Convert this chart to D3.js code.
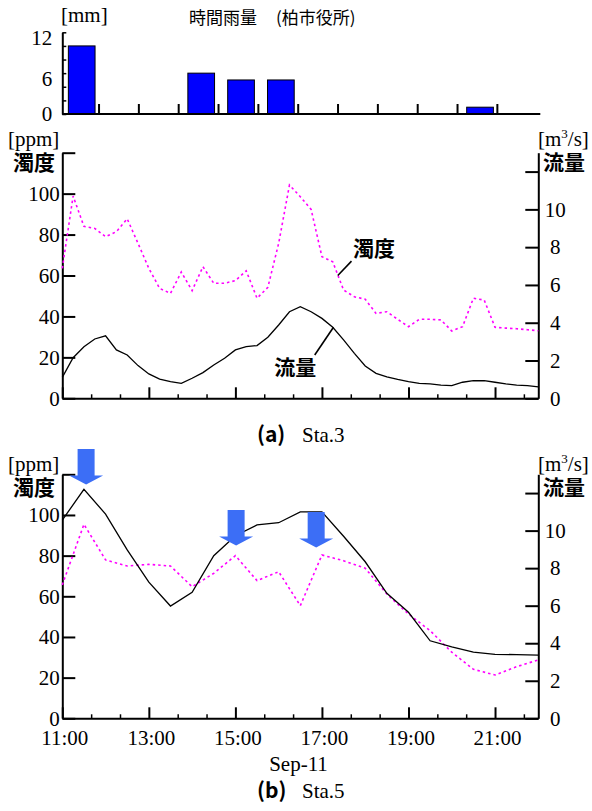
<!DOCTYPE html>
<html><head><meta charset="utf-8">
<script src="https://cdn.jsdelivr.net/npm/d3@7"></script>
<style>
body{margin:0;background:#fff}
svg{display:block}
text.num{font-family:'Liberation Serif','Times New Roman',Times,serif !important;font-size:21px;fill:#000}
text.cjkb{font-family:'Noto Sans CJK JP',sans-serif;font-weight:700;font-size:21px;fill:#000}
text.cjk{font-family:'Noto Sans CJK JP',sans-serif;font-weight:400;font-size:17px;fill:#000}
text.cap{font-family:'Noto Sans CJK JP',sans-serif;font-weight:700;font-size:21px;fill:#000}
</style></head><body>
<svg id="c" width="592" height="811"></svg>
<script>
// ---------- data ----------
const rainHours = ["11","12","13","14","15","16","17","18","19","20","21","22"];
const rainMm = [10,0,0,6,5,5,0,0,0,0,1,0];
const rainTicks = [0,2,4,6,8,10,12];
const rainTickLabels = [0,6,12];

const sta3Times = ["11:00","11:15","11:30","11:45","12:00","12:15","12:30","12:45","13:00","13:15","13:30","13:45","14:00","14:15","14:30","14:45","15:00","15:15","15:30","15:45","16:00","16:15","16:30","16:45","17:00","17:15","17:30","17:45","18:00","18:15","18:30","18:45","19:00","19:15","19:30","19:45","20:00","20:15","20:30","20:45","21:00","21:15","21:30","21:45","22:00"];
const sta3Turbidity = [63.5,98.8,84,83,79,81.4,87.7,75.7,63.5,53.7,51.3,61.7,52.6,64.3,56.2,56.2,57.5,62.3,48.9,54.2,75.7,104.2,98.5,92.3,69.2,66.7,52.9,49.6,48.4,41.5,42.3,38.6,35,38.6,38.6,38.3,32.9,35,48.9,48,34.7,34.3,34,33.5,33];
const sta3Flow = [1.11,2.15,2.73,3.14,3.31,2.56,2.29,1.73,1.29,1.02,0.88,0.79,1.06,1.36,1.76,2.12,2.56,2.73,2.79,3.23,3.88,4.58,4.85,4.58,4.23,3.76,3.09,2.38,1.71,1.32,1.14,1.0,0.88,0.79,0.76,0.70,0.67,0.85,0.93,0.93,0.85,0.76,0.70,0.67,0.61];

const sta5Times = ["11:00","11:30","12:00","12:30","13:00","13:30","14:00","14:30","15:00","15:30","16:00","16:30","17:00","17:30","18:00","18:30","19:00","19:30","20:00","20:30","21:00","21:30","22:00"];
const sta5Turbidity = [65.6,95.4,77.9,74.9,75.7,74.9,64.7,71.3,80,67.7,72.1,55.4,80.3,77.5,73.8,61.1,51.3,43.1,32.5,24.1,21.3,25.4,28.7];
const sta5Flow = [10.56,12.2,10.88,8.97,7.25,5.98,6.71,8.66,9.73,10.3,10.42,11.0,11.0,9.7,8.34,6.66,5.65,4.13,3.81,3.52,3.41,3.39,3.37];

const turbTicks = [0,20,40,60,80,100,120];
const flowTicks = [0,2,4,6,8,10,12];
const timeMajor = ["11:00","13:00","15:00","17:00","19:00","21:00"];
const timeMinor = ["11:40","12:20","13:40","14:20","15:40","16:20","17:40","18:20","19:40","20:20","21:40"];

// annotations
const arrowTimes = ["11:33","15:01","16:52"];
const arrowTipPpm = [115, 85, 84];
const turbLeader = ["17:22", 60, "17:41", 67];   // [time, ppm] -> [time, ppm]
const flowLeader = ["16:50", 2.29, "17:16", 3.76]; // [time, m3/s] -> [time, m3/s]

// ---------- layout ----------
const SERIF = "'Liberation Serif','Times New Roman',Times,serif";
const L = 62.3, R = 538.3;
const svg = d3.select("#c");
const parseT = s => { const [h,m] = s.split(":").map(Number); return h + m/60; };
const x = d3.scaleLinear().domain([11,22]).range([L,R]);

function num(sel){ return sel.attr("class","num").attr("font-family",SERIF).attr("font-size",21).style("font-family",SERIF); }

function styleAxis(g){
  g.attr("font-family",SERIF).attr("font-size",21);
  g.selectAll("path.domain").attr("stroke","#000").attr("stroke-width",2);
  g.selectAll(".tick line").attr("stroke","#000").attr("stroke-width",2);
  num(g.selectAll("text"));
}

// ---------- rain chart ----------
(function(){
  const base = 114, top = 32.3;
  const xb = d3.scaleBand().domain(rainHours).range([59.2,537.2]).padding(0);
  const yR = d3.scaleLinear().domain([0,12]).range([base,top]);
  const bw = xb.bandwidth();
  svg.append("g").selectAll("rect").data(rainHours.map((h,i)=>({h,v:rainMm[i]})).filter(d=>d.v>0))
    .join("rect")
    .attr("x",d=>xb(d.h)+bw*0.23).attr("width",bw*0.67)
    .attr("y",d=>yR(d.v)).attr("height",d=>yR(0)-yR(d.v))
    .attr("fill","#0000ff").attr("stroke","#000").attr("stroke-width",1);
  svg.append("line").attr("x1",L).attr("x2",R+2).attr("y1",base).attr("y2",base)
    .attr("stroke","#000").attr("stroke-width",2);
  svg.append("g").selectAll("line").data(rainHours.slice(0,11)).join("line")
    .attr("x1",d=>xb(d)+bw).attr("x2",d=>xb(d)+bw)
    .attr("y1",base).attr("y2",base-10).attr("stroke","#000").attr("stroke-width",2);
  const ga = svg.append("g").attr("transform",`translate(${L},0)`)
    .call(d3.axisLeft(yR).tickValues(rainTicks).tickSize(-4).tickSizeOuter(0).tickPadding(10)
      .tickFormat(d=>rainTickLabels.includes(d)?d:""));
  styleAxis(ga);
  ga.selectAll(".tick line").attr("stroke-width",1.5);
  ga.selectAll("text").attr("dy",d=>d===0?"0.32em":"0.6em");
  num(svg.append("text")).attr("x",61).attr("y",22).text("[mm]");
  svg.append("text").attr("class","cjk").attr("x",189).attr("y",24).text("時間雨量");
  svg.append("text").attr("class","cjk").attr("x",276).attr("y",24).text("(柏市役所)");
})();

// ---------- panels ----------
function panel(top, bot, times, turb, flow, opts){
  const yT = d3.scaleLinear().domain([0,120]).range([bot,top]);
  const yF = d3.scaleLinear().domain([0,13]).range([bot,top]);
  const g = svg.append("g");

  const gx = g.append("g").attr("transform",`translate(0,${bot})`)
    .call(d3.axisBottom(x).tickValues(timeMajor.map(parseT)).tickSize(-11).tickSizeOuter(0).tickPadding(12)
      .tickFormat(d=> opts.xLabels ? d + ":00" : ""));
  styleAxis(gx);
  gx.selectAll("text").attr("dx",2);
  const gm = g.append("g").attr("transform",`translate(0,${bot})`)
    .call(d3.axisBottom(x).tickValues(timeMinor.map(parseT)).tickSize(-4).tickSizeOuter(0).tickFormat(""));
  styleAxis(gm);
  gm.select("path.domain").remove();
  gm.selectAll(".tick line").attr("stroke-width",1.5);

  const gl = g.append("g").attr("transform",`translate(${L},0)`)
    .call(d3.axisLeft(yT).tickValues(turbTicks).tickSize(-13).tickSizeOuter(0).tickPadding(2.5)
      .tickFormat(d=>d===120?"":d));
  styleAxis(gl);
  const gr = g.append("g").attr("transform",`translate(${R},0)`)
    .call(d3.axisRight(yF).tickValues(flowTicks).tickSize(-13).tickSizeOuter(0).tickPadding(17)
      .tickFormat(d=>d===12?"":d));
  styleAxis(gr);
  gr.selectAll("text").attr("text-anchor","middle");

  const tData = times.map((t,i)=>({t:parseT(t), v:turb[i]}));
  const fData = times.map((t,i)=>({t:parseT(t), v:flow[i]}));
  g.append("path").datum(tData)
    .attr("d", d3.line().x(d=>x(d.t)).y(d=>yT(d.v)))
    .attr("fill","none").attr("stroke","#ff00ff").attr("stroke-width",1.6)
    .attr("stroke-dasharray","2.5,3");
  g.append("path").datum(fData)
    .attr("d", d3.line().x(d=>x(d.t)).y(d=>yF(d.v)))
    .attr("fill","none").attr("stroke","#000").attr("stroke-width",1.3);

  num(g.append("text")).attr("x",8).attr("y",top+opts.unitDy).text("[ppm]");
  g.append("text").attr("class","cjkb").attr("x",13).attr("y",top+opts.nameDy).text("濁度");
  const u = num(g.append("text")).attr("x",538).attr("y",top+opts.unitDy);
  u.append("tspan").text("[m");
  u.append("tspan").attr("font-size",13).style("font-size","13px").attr("dy",-8).text("3");
  u.append("tspan").attr("dy",8).text("/s]");
  g.append("text").attr("class","cjkb").attr("x",543).attr("y",top+opts.nameDy).text("流量");

  return {g, yT, yF};
}

// (a) Sta.3
const pa = panel(152.7, 398.3, sta3Times, sta3Turbidity, sta3Flow, {xLabels:false, unitDy:-7, nameDy:17});
{
  const [t1,v1,t2,v2] = turbLeader;
  const x1 = x(parseT(t1)), y1 = pa.yT(v1), x2 = x(parseT(t2)), y2 = pa.yT(v2);
  pa.g.append("line").attr("x1",x1).attr("y1",y1).attr("x2",x2).attr("y2",y2)
    .attr("stroke","#000").attr("stroke-width",1.6);
  pa.g.append("text").attr("class","cjkb").attr("x",x2+1.5).attr("y",y2-5).text("濁度");
  const [f1,w1,f2,w2] = flowLeader;
  const a1 = x(parseT(f1)), b1 = pa.yF(w1), a2 = x(parseT(f2)), b2 = pa.yF(w2);
  pa.g.append("line").attr("x1",a1).attr("y1",b1).attr("x2",a2).attr("y2",b2)
    .attr("stroke","#000").attr("stroke-width",1.6);
  pa.g.append("text").attr("class","cjkb").attr("text-anchor","end").attr("x",a1+1.5).attr("y",b1+20).text("流量");
}
svg.append("text").attr("class","cap").attr("x",257).attr("y",442).text("(a)");
num(svg.append("text")).attr("x",302).attr("y",442).text("Sta.3");

// (b) Sta.5
const pb = panel(474.3, 718.3, sta5Times, sta5Turbidity, sta5Flow, {xLabels:true, unitDy:-3, nameDy:21});
{
  const arrow = (cx, tipY) => {
    const sw = 8.5, hw = 17, hl = 9, len = 35.5;
    return `M${cx-sw},${tipY-len}H${cx+sw}V${tipY-hl}H${cx+hw}L${cx},${tipY}L${cx-hw},${tipY-hl}H${cx-sw}Z`;
  };
  pb.g.append("g").selectAll("path").data(arrowTimes.map((t,i)=>({t:parseT(t), v:arrowTipPpm[i]})))
    .join("path").attr("d",d=>arrow(x(d.t), pb.yT(d.v))).attr("fill","#3c6ef6");
}
num(svg.append("text")).attr("x",298.5).attr("y",771).attr("text-anchor","middle").text("Sep-11");
svg.append("text").attr("class","cap").attr("x",257).attr("y",798).text("(b)");
num(svg.append("text")).attr("x",302).attr("y",798).text("Sta.5");
</script>
</body></html>
